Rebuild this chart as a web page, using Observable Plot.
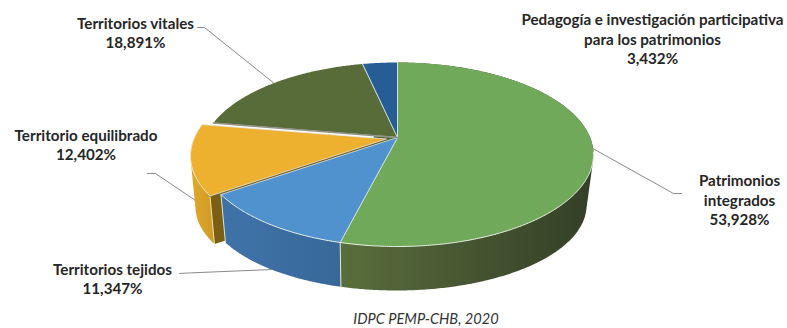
<!DOCTYPE html>
<html lang="es">
<head>
<meta charset="utf-8">
<script src="https://cdn.jsdelivr.net/npm/d3@7"></script>
<script src="https://cdn.jsdelivr.net/npm/@observablehq/plot@0.6"></script>
<style>
html,body{margin:0;padding:0;background:#fff;}
#chart{width:787px;}
#chart svg{display:block;}
#caption{width:787px;height:22px;position:relative;font:italic 14.6px Lato,sans-serif;color:#333;}
#caption span{position:absolute;left:426px;top:2px;transform:translateX(-50%);white-space:nowrap;line-height:22px;}
</style>
</head>
<body>
<div id="chart"></div>
<div id="caption"><span>IDPC PEMP-CHB, 2020</span></div>
<script>
// Data, clockwise from twelve o'clock
const names = ["Patrimonios\nintegrados", "Territorios tejidos", "Territorio equilibrado", "Territorios vitales", "Pedagogía e investigación participativa\npara los patrimonios"];
const values = [53.928, 11.347, 12.402, 18.891, 3.432];
const faceColors = ["#70a95a", "#5092cd", "#edb02f", "#576c38", "#265d95"];
const wallDark = ["#333f27", "#3f73a8", "#e0a92c"];
const wallLight = ["#5a6e3c", "#38689a", "#d29c28"];

// Layout
const W = 787, H = 306;
const top3d = {cx: 397, cy: 154, rx: 196, ry: 92};
const bottom3d = {cx: 396, cy: 205, rx: 190, ry: 85};
const tilt = 0.185;
const explodeX = [0, 0, -11, 0, 0], explodeY = [0, 0, 1.5, 0, 0];
const labelX = [739, 112, 85.5, 135, 652];
const labelY = [199, 278, 144, 32, 38];
const leaderDepth = [0, 1, 0.8, 0, null];
const leaderElbowX = [673, 190, 155, 204, null], leaderElbowY = [193, 272.4, 173, 27, null];
const leaderEndX = [681, 179, 147, 197, null], leaderEndY = [193, 273, 173, 27, null];

const tau = Math.PI * 2, squeeze = Math.sqrt(1 - tilt * tilt);
function project(theta, h, dx = 0, dy = 0) {
  const u = Math.sin(theta), v = Math.cos(theta), d = 1 + tilt * v;
  const X = squeeze * u / d, Y = (v + tilt) / d;
  const a = top3d, b = bottom3d;
  const tx = a.cx + a.rx * X, ty = a.cy - a.ry * Y, bx = b.cx + b.rx * X, by = b.cy - b.ry * Y;
  return {x: tx + (bx - tx) * h + dx, y: ty + (by - ty) * h + dy};
}
function apex(h, dx = 0, dy = 0) {
  const a = top3d, b = bottom3d;
  const tx = a.cx, ty = a.cy - a.ry * tilt, bx = b.cx, by = b.cy - b.ry * tilt;
  return {x: tx + (bx - tx) * h + dx, y: ty + (by - ty) * h + dy};
}

const arcs = d3.pie().sort(null).value(d => d)(values);
const polygon = (pts, fill, extra = {}) => Plot.line(pts, {x: "x", y: "y", fill, stroke: "none", curve: "linear-closed", ...extra});
const marks = [];
const rimOf = (a, h, dx, dy) => {
  const n = Math.max(4, Math.ceil((a.endAngle - a.startAngle) / tau * 720));
  return d3.range(n + 1).map(s => project(a.startAngle + (a.endAngle - a.startAngle) * s / n, h, dx, dy));
};

// Gradients for the side walls, left-to-right across each wall
const NS = "http://www.w3.org/2000/svg";
const wallSlices = [2, 1, 0];
marks.push(() => {
  const defs = document.createElementNS(NS, "defs");
  for (const i of wallSlices) {
    const xs = rimOf(arcs[i], 0, explodeX[i], explodeY[i]).filter(p => p.y > top3d.cy - 20).map(p => p.x);
    const g = document.createElementNS(NS, "linearGradient");
    g.setAttribute("id", "wall" + i);
    g.setAttribute("gradientUnits", "userSpaceOnUse");
    const [lo, hi] = d3.extent(xs);
    g.setAttribute("x1", lo); g.setAttribute("x2", hi); g.setAttribute("y1", 0); g.setAttribute("y2", 0);
    [[0, i === 0 ? wallLight[i] : wallDark[i]], [1, i === 0 ? wallDark[i] : wallLight[i]]].forEach(([o, c]) => {
      const st = document.createElementNS(NS, "stop");
      st.setAttribute("offset", o); st.setAttribute("stop-color", c);
      g.append(st);
    });
    defs.append(g);
  }
  return defs;
});

// Side walls: convex hull of top rim and bottom rim of each slice
for (const i of wallSlices) {
  const a = arcs[i], dx = explodeX[i], dy = explodeY[i];
  if (i === 2) {
    // cut face of the pulled-out slice
    marks.push(polygon([project(a.startAngle, 0, dx, dy), apex(0, dx, dy), apex(1, dx, dy), project(a.startAngle, 1, dx, dy)], "#7b5f14"));
  }
  const pts = [...rimOf(a, 0, dx, dy), ...rimOf(a, 1, dx, dy)];
  const hull = d3.polygonHull(pts.map(p => [p.x, p.y])).map(([x, y]) => ({x, y}));
  marks.push(polygon(hull, `url(#wall${i})`));
}
// Seams on the walls
for (const i of [0, 1]) {
  const t = arcs[i].endAngle;
  marks.push(Plot.line([project(t, 0), project(t, 1)], {x: "x", y: "y", stroke: "#dfe6d6", strokeWidth: 1}));
}
marks.push(Plot.line([project(arcs[2].startAngle, 0, explodeX[2], explodeY[2]), project(arcs[2].startAngle, 1, explodeX[2], explodeY[2])], {x: "x", y: "y", stroke: "#f2dfa8", strokeWidth: 1}));

// Top faces
for (const i of [3, 4, 0, 1, 2]) {
  const a = arcs[i], dx = explodeX[i], dy = explodeY[i];
  const rim = rimOf(a, 0, dx, dy), n = rim.length - 1;
  if (i === 2) marks.push(Plot.line([apex(0, dx, dy), rim[0]], {x: "x", y: "y", stroke: "#6d5d2a", strokeWidth: 2}));
  marks.push(polygon([apex(0, dx, dy), ...rim], faceColors[i]));
  // light separators
  marks.push(Plot.line([rim[0], apex(0, dx, dy), rim[n]], {x: "x", y: "y", stroke: "#e4ecec", strokeWidth: 0.9, strokeOpacity: 0.85}));
  // light front rim
  const front = rim.filter((p, s) => {
    const t = a.startAngle + (a.endAngle - a.startAngle) * s / n;
    return t > Math.PI * 0.55 && t < Math.PI * 1.55;
  });
  if (front.length > 1) marks.push(Plot.line(front, {x: "x", y: "y", stroke: "#eef3ea", strokeWidth: 1}));
}
// The grey gap above the pulled-out slice
marks.push(Plot.line([apex(0), project(arcs[3].startAngle, 0)], {x: "x", y: "y", stroke: "#93938a", strokeWidth: 1.5}));

// Leader lines: they leave each slice from its mid-angle
const leaders = arcs.flatMap((a, i) => {
  if (leaderDepth[i] === null) return [];
  const mid = (a.startAngle + a.endAngle) / 2;
  return [[project(mid, leaderDepth[i], explodeX[i], explodeY[i]), {x: leaderElbowX[i], y: leaderElbowY[i]}, {x: leaderEndX[i], y: leaderEndY[i]}]];
});
for (const l of leaders) marks.push(Plot.line(l, {x: "x", y: "y", stroke: "#8a8a8a", strokeWidth: 1}));

// Labels
const fmt = v => v.toFixed(3).replace(".", ",") + "%";
const labels = names.map((n, i) => ({x: labelX[i], y: labelY[i], text: n + "\n" + fmt(values[i])}));
marks.push(Plot.text(labels, {x: "x", y: "y", text: "text", fontFamily: "Lato, sans-serif", fontWeight: 700, fontSize: 15.2, lineHeight: 1.28, fill: "#262626", textAnchor: "middle", lineAnchor: "middle"}));

const chart = Plot.plot({
  width: W, height: H, margin: 0,
  x: {domain: [0, W], range: [0, W], axis: null},
  y: {domain: [0, H], range: [0, H], axis: null},
  style: {background: "#fff"},
  marks
});
document.getElementById("chart").append(chart);
</script>
</body>
</html>
